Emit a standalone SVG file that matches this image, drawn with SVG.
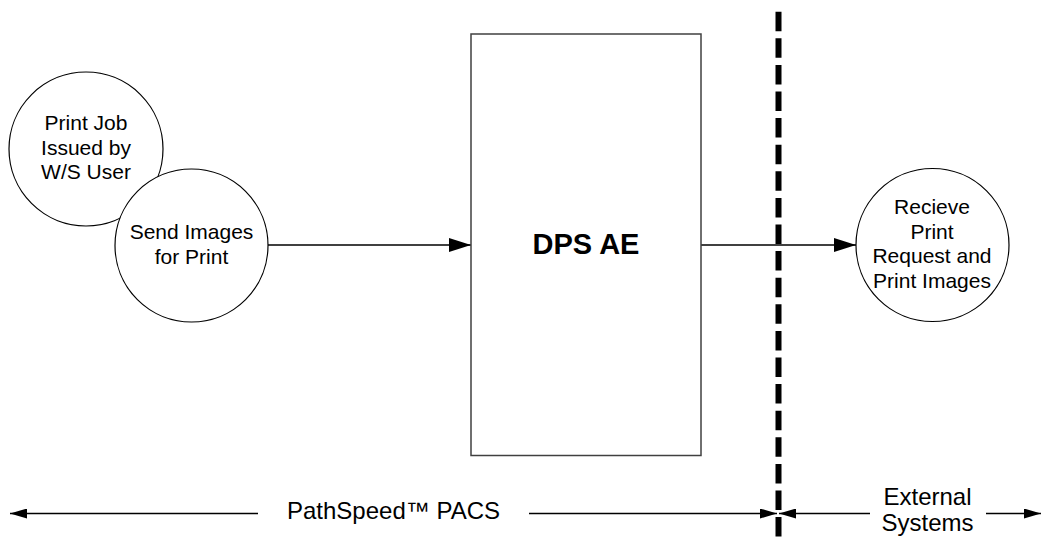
<svg xmlns="http://www.w3.org/2000/svg" width="1048" height="540" viewBox="0 0 1048 540">
<style>
.t{font-family:"Liberation Sans",Arial,sans-serif;fill:#000;text-anchor:middle}
.c{font-size:21px}
.b{font-size:24px}
.node{fill:#fff;stroke:#000;stroke-width:1.2}
.ln{stroke:#000;stroke-width:1.3;fill:none}
</style>
<defs>
<marker id="ah" viewBox="0 0 22 14" refX="22" refY="7" markerWidth="22" markerHeight="14" markerUnits="userSpaceOnUse" orient="auto">
<path d="M0,0 L22,7 L0,14 Z" fill="#000"/>
</marker>
<marker id="as" viewBox="0 0 17 10" refX="17" refY="5" markerWidth="17" markerHeight="10" markerUnits="userSpaceOnUse" orient="auto">
<path d="M0,0 L17,5 L0,10 Z" fill="#000"/>
</marker>
</defs>
<rect width="1048" height="540" fill="#fff"/>
<g id="boundary">
<line x1="778.5" y1="11.7" x2="778.5" y2="536.5" stroke="#000" stroke-width="6" stroke-dasharray="19.5 7.1"/>
</g>
<g id="connectors">
<line class="ln" x1="268" y1="245" x2="471" y2="245" marker-end="url(#ah)"/>
<line class="ln" x1="701" y1="245" x2="856" y2="245" marker-end="url(#ah)"/>
<line class="ln" x1="258" y1="513.5" x2="10" y2="513.5" marker-end="url(#as)"/>
<line class="ln" x1="529" y1="513.5" x2="777" y2="513.5" marker-end="url(#as)"/>
<line class="ln" x1="870" y1="513.5" x2="779" y2="513.5" marker-end="url(#as)"/>
<line class="ln" x1="986" y1="513.5" x2="1041" y2="513.5" marker-end="url(#as)"/>
</g>
<g id="print-job">
<circle class="node" cx="86" cy="149" r="77"/>
<text class="t c" x="86" y="130">Print Job</text>
<text class="t c" x="86" y="154.5">Issued by</text>
<text class="t c" x="86" y="179">W/S User</text>
</g>
<g id="send-images">
<circle class="node" cx="191.5" cy="245.5" r="76.5"/>
<text class="t c" x="191.5" y="239">Send Images</text>
<text class="t c" x="191.5" y="263.5">for Print</text>
</g>
<g id="dps-ae">
<rect x="471" y="34" width="230" height="421.5" fill="#fff" stroke="#404040" stroke-width="1.5"/>
<text class="t" x="586" y="254" font-size="29" font-weight="bold">DPS AE</text>
</g>
<g id="receive-print">
<circle class="node" cx="932.5" cy="245" r="76.5"/>
<text class="t c" x="932" y="213.5">Recieve</text>
<text class="t c" x="932" y="238.5">Print</text>
<text class="t c" x="932" y="263">Request and</text>
<text class="t c" x="932" y="288">Print Images</text>
</g>
<g id="labels">
<text class="t b" x="393.5" y="519">PathSpeed™ PACS</text>
<text class="t b" x="927.5" y="505">External</text>
<text class="t b" x="927.5" y="531">Systems</text>
</g>
</svg>
